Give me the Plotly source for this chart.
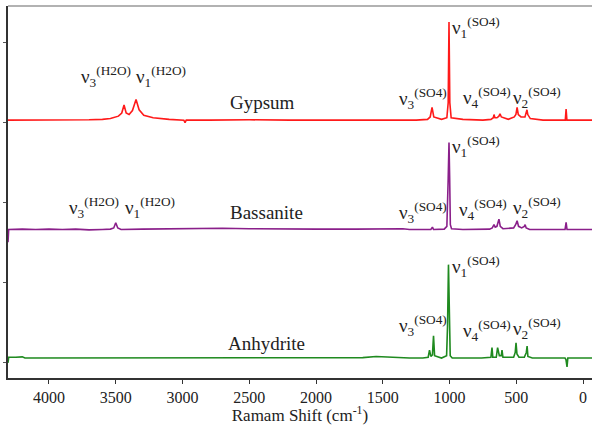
import plotly.graph_objects as go

# ---------------- data ----------------
gyp_wn = [4307, 4150, 4000, 3850, 3700, 3600, 3540, 3480, 3455, 3438, 3422, 3400, 3375, 3348, 3325,
          3290, 3220, 3100, 2990, 2981, 2972, 2800, 2500, 2200, 1900, 1600, 1400, 1250, 1165, 1145,
          1131, 1118, 1060, 1020, 1010, 1004, 998, 988, 900, 750, 690, 672, 667, 660, 645, 630, 622,
          612, 560, 515, 503, 494, 485, 465, 435, 425, 420, 414, 395, 300, 200, 133, 127, 121, 60, -67]
gyp_int = [3.03, 3.03, 3.035, 3.03, 3.035, 3.04, 3.05, 3.08, 3.12, 3.22, 3.12, 3.10, 3.15, 3.29, 3.16,
           3.09, 3.06, 3.04, 3.03, 3.00, 3.03, 3.03, 3.035, 3.03, 3.03, 3.035, 3.03, 3.03, 3.04, 3.07,
           3.19, 3.07, 3.04, 3.06, 3.25, 4.26, 3.25, 3.06, 3.04, 3.03, 3.04, 3.06, 3.10, 3.06, 3.06, 3.08, 3.11,
           3.07, 3.04, 3.07, 3.10, 3.19, 3.10, 3.07, 3.07, 3.12, 3.16, 3.10, 3.05, 3.03, 3.03, 3.03, 3.17, 3.03, 3.03, 3.03]

bas_wn = [4307, 4302, 4200, 4100, 4000, 3900, 3800, 3700, 3600, 3540, 3515, 3500, 3485, 3460, 3300,
          3100, 2900, 2700, 2500, 2300, 2000, 1700, 1500, 1350, 1300, 1200, 1140, 1128, 1120, 1040,
          1020, 1010, 1004, 999, 994, 985, 900, 700, 680, 667, 658, 645, 630, 620, 600, 520, 505, 494,
          483, 460, 440, 434, 426, 400, 300, 250, 200, 135, 127, 120, -67]
bas_int = [1.50, 1.66, 1.665, 1.66, 1.665, 1.66, 1.665, 1.655, 1.66, 1.665, 1.68, 1.745, 1.68, 1.66, 1.665,
           1.67, 1.67, 1.675, 1.67, 1.665, 1.665, 1.665, 1.67, 1.67, 1.66, 1.655, 1.66, 1.69, 1.66, 1.665,
           1.70, 2.30, 2.75, 2.30, 1.72, 1.67, 1.66, 1.665, 1.68, 1.72, 1.69, 1.70, 1.79, 1.70, 1.67, 1.68, 1.72, 1.77,
           1.70, 1.68, 1.70, 1.72, 1.68, 1.66, 1.66, 1.655, 1.66, 1.66, 1.75, 1.66, 1.66]

anh_wn = [4307, 4302, 4250, 4200, 4180, 4000, 3800, 3600, 3400, 3200, 3000, 2800, 2600, 2400, 2200,
          2000, 1800, 1650, 1550, 1480, 1430, 1300, 1200, 1160, 1150, 1140, 1128, 1120, 1112, 1060,
          1022, 1015, 1008, 1002, 995, 980, 900, 760, 690, 682, 676, 650, 640, 627, 612, 607, 600,
          520, 508, 502, 495, 480, 440, 425, 419, 413, 380, 300, 200, 135, 128, 120, 114, 60, -67]
anh_int = [-0.01, 0.06, 0.06, 0.065, 0.05, 0.05, 0.05, 0.05, 0.055, 0.05, 0.05, 0.055, 0.05, 0.05, 0.055,
           0.05, 0.05, 0.055, 0.07, 0.065, 0.055, 0.05, 0.05, 0.06, 0.15, 0.07, 0.09, 0.33, 0.08, 0.05,
           0.08, 0.45, 1.22, 0.45, 0.08, 0.05, 0.05, 0.05, 0.06, 0.18, 0.06, 0.06, 0.18, 0.08, 0.08, 0.15, 0.06,
           0.06, 0.12, 0.24, 0.10, 0.06, 0.06, 0.12, 0.20, 0.07, 0.05, 0.05, 0.05, 0.05, 0.03, -0.06, 0.05, 0.05, 0.05]

x_ticks = [4000, 3500, 3000, 2500, 2000, 1500, 1000, 500, 0]
y_ticks = [0, 1, 2, 3, 4]

SERIF = "'Liberation Serif', 'Times New Roman', Times, serif"

fig = go.Figure()
fig.add_trace(go.Scatter(x=gyp_wn, y=gyp_int, mode="lines", line=dict(color="#ff1a1a", width=1.6),
                         name="Gypsum", showlegend=False))
fig.add_trace(go.Scatter(x=bas_wn, y=bas_int, mode="lines", line=dict(color="#8a1f8a", width=1.6),
                         name="Bassanite", showlegend=False))
fig.add_trace(go.Scatter(x=anh_wn, y=anh_int, mode="lines", line=dict(color="#1f8a1f", width=1.6),
                         name="Anhydrite", showlegend=False))

W, H = 592, 425
L, R, T, B = 8, 0, 6, 47
PW, PH = W - L - R, H - T - B


def ann(text, px, py, xanchor="left", size=19):
    return dict(text=text, xref="paper", yref="paper",
                x=(px - L) / PW, y=(H - B - py) / PH,
                xanchor=xanchor, yanchor="middle", showarrow=False,
                font=dict(family=SERIF, size=size, color="#222"))


def nu(i, grp):
    return f"ν<sub>{i}</sub><sup>({grp})</sup>"


annotations = [
    # Gypsum
    ann(nu(3, "H2O"), 79, 76), ann(nu(1, "H2O"), 134, 76),
    ann("Gypsum", 262, 102, "center"),
    ann(nu(1, "SO4"), 450, 28), ann(nu(3, "SO4"), 397, 98),
    ann(nu(4, "SO4"), 461, 97), ann(nu(2, "SO4"), 511, 97),
    # Bassanite
    ann(nu(3, "H2O"), 67, 207), ann(nu(1, "H2O"), 123, 207),
    ann("Bassanite", 266, 213, "center"),
    ann(nu(1, "SO4"), 450, 146), ann(nu(3, "SO4"), 397, 213),
    ann(nu(4, "SO4"), 457, 210), ann(nu(2, "SO4"), 511, 207),
    # Anhydrite
    ann("Anhydrite", 266, 343, "center"),
    ann(nu(1, "SO4"), 450, 266), ann(nu(3, "SO4"), 397, 325),
    ann(nu(4, "SO4"), 461, 330), ann(nu(2, "SO4"), 511, 328),
]

fig.update_layout(
    width=W, height=H,
    margin=dict(l=L, r=R, t=T, b=B),
    paper_bgcolor="white", plot_bgcolor="white",
    font=dict(family=SERIF, size=16, color="#222"),
    annotations=annotations,
    shapes=[dict(type="line", xref="paper", yref="paper", x0=0, x1=1, y0=1, y1=1,
                 line=dict(color="#999", width=1.5))],
)
fig.update_xaxes(range=[4307, -67], tickvals=x_ticks, ticktext=[str(v) for v in x_ticks],
                 ticks="outside", ticklen=4, tickcolor="#333", showline=True, linecolor="#333",
                 linewidth=1.5, showgrid=False, zeroline=False,
                 tickfont=dict(family=SERIF, size=16, color="#222"),
                 title=dict(text="Ramam Shift (cm<sup>-1</sup>)", standoff=2,
                            font=dict(family=SERIF, size=17, color="#222")))
fig.update_yaxes(range=[-0.2, 4.46], tickvals=y_ticks, showticklabels=False,
                 ticks="outside", ticklen=3, tickcolor="#555", showline=True, linecolor="#333",
                 linewidth=1.5, showgrid=False, zeroline=False)

fig.write_html("out.html", config={"displayModeBar": False},
               post_script="document.body.style.margin='0px';document.body.style.padding='0px';")
